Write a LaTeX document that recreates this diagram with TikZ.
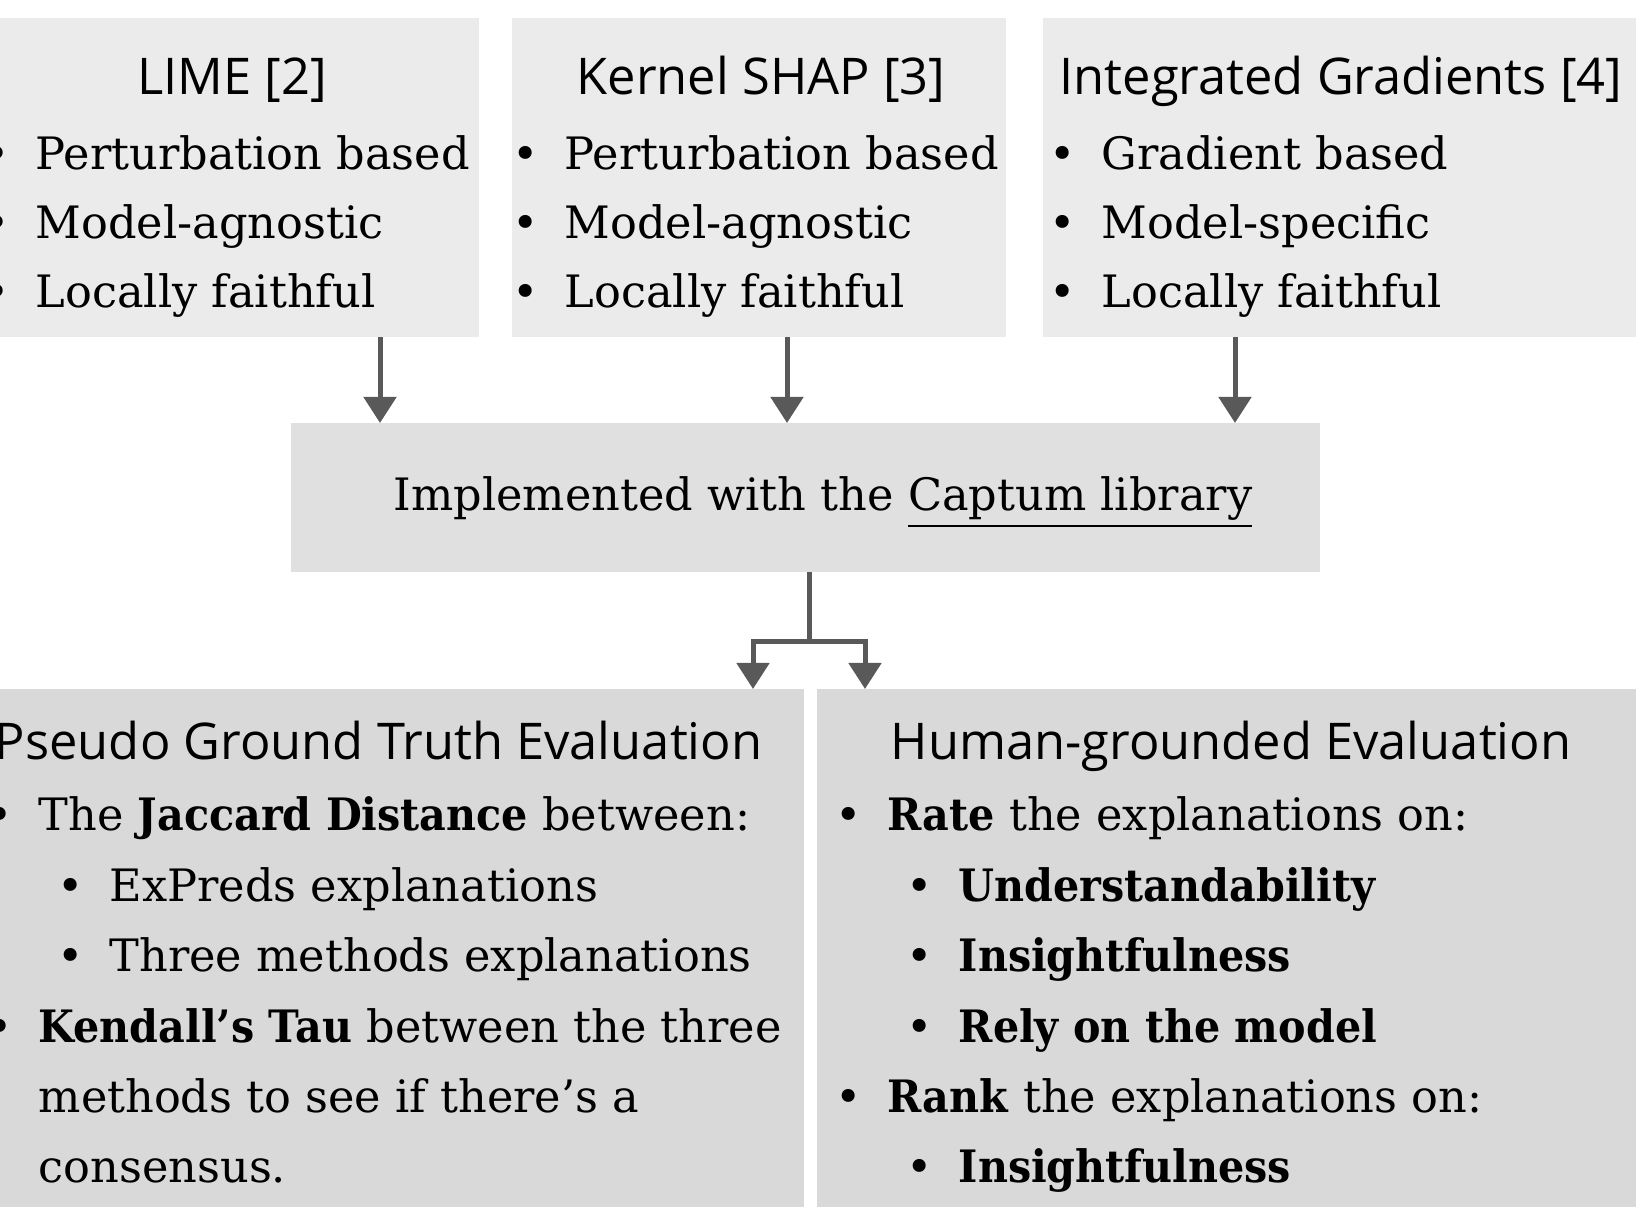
\documentclass[tikz,border=0pt]{standalone}
\usepackage{fontspec}
\setmainfont{DejaVu Serif}[BoldFeatures={FakeStretch=0.925}]
\newfontfamily\headfont{Open Sans}
\usepackage{xcolor}
\definecolor{box-light}{RGB}{235,235,235}
\definecolor{box-mid}{RGB}{224,224,224}
\definecolor{box-dark}{RGB}{217,217,217}
\definecolor{arrow-grey}{RGB}{89,89,89}
\usetikzlibrary{arrows.meta}
\newcommand{\bul}{\llap{\textbullet\hspace{2.6mm}}}

\begin{document}
\begin{tikzpicture}[
	>={Triangle[length=2.6mm,width=3.2mm]},
	box/.style={rectangle,inner sep=0pt,outer sep=0pt,anchor=north west},
	head/.style={font=\headfont\fontsize{14.4}{17}\selectfont,inner sep=0pt,anchor=base},
	item/.style={font=\fontsize{12.7}{15}\selectfont,inner sep=0pt,anchor=base west},
	link/.style={->,line width=0.5mm,arrow-grey}
	]
	\useasboundingbox (0,0) rectangle (16.36,12.07);
	\clip (0,0) rectangle (16.36,12.07);
	
	% the three methods
	\node[box,fill=box-light,minimum width=4.99cm,minimum height=3.19cm] (lime) at (-0.20,11.89) {};
	\node[box,fill=box-light,minimum width=4.94cm,minimum height=3.19cm] (kshap) at (5.12,11.89) {};
	\node[box,fill=box-light,minimum width=6.00cm,minimum height=3.19cm] (ig) at (10.43,11.89) {};
	
	\node[head] (lime-t) at (2.32,11.12) {LIME [2]};
	\node[head] (kshap-t) at (7.61,11.12) {Kernel SHAP [3]};
	\node[head] (ig-t) at (13.41,11.12) {Integrated Gradients [4]};
	
	\foreach \txt [count=\i] in {Perturbation based,Model-agnostic,Locally faithful}
		\node[item] (lime-\i) at (0.35,{10.37-0.69*(\i-1)}) {\bul\txt};
	\foreach \txt [count=\i] in {Perturbation based,Model-agnostic,Locally faithful}
		\node[item] (kshap-\i) at (5.64,{10.37-0.69*(\i-1)}) {\bul\txt};
	\foreach \txt [count=\i] in {Gradient based,Model-specific,Locally faithful}
		\node[item] (ig-\i) at (11.01,{10.37-0.69*(\i-1)}) {\bul\txt};
	
	% captum
	\node[box,fill=box-mid,minimum width=10.29cm,minimum height=1.49cm] (captum) at (2.91,7.84) {};
	\node[item,anchor=base] (captum-t) at (8.23,6.96) {Implemented with the \underline{Captum library}};
	
	% the two evaluations
	\node[box,fill=box-dark,minimum width=8.36cm,minimum height=5.6cm] (pgt) at (-0.32,5.18) {};
	\node[box,fill=box-dark,minimum width=8.40cm,minimum height=5.6cm] (human) at (8.17,5.18) {};
	
	\node[head,anchor=base east] (pgt-t) at (7.63,4.47) {Pseudo Ground Truth Evaluation};
	\node[head] (human-t) at (12.31,4.47) {Human-grounded Evaluation};
	
	\foreach \x/\txt [count=\i] in {0.38/{\bul The \textbf{Jaccard Distance} between:},
			1.09/{\bul ExPreds explanations},
			1.09/{\bul Three methods explanations},
			0.38/{\bul\textbf{Kendall’s Tau} between the three},
			0.38/{methods to see if there’s a},
			0.38/{consensus.}}
		\node[item] (pgt-\i) at (\x,{3.76-0.704*(\i-1)}) {\txt};
	\foreach \x/\txt [count=\i] in {8.87/{\bul\textbf{Rate} the explanations on:},
			9.58/{\bul\textbf{Understandability}},
			9.58/{\bul\textbf{Insightfulness}},
			9.58/{\bul\textbf{Rely on the model}},
			8.87/{\bul\textbf{Rank} the explanations on:},
			9.58/{\bul\textbf{Insightfulness}}}
		\node[item] (human-\i) at (\x,{3.76-0.704*(\i-1)}) {\txt};
	
	% arrows
	\coordinate (a1) at (3.80,0);
	\coordinate (a2) at (7.87,0);
	\coordinate (a3) at (12.35,0);
	\draw[link] (a1 |- lime.south) -- (a1 |- captum.north);
	\draw[link] (a2 |- kshap.south) -- (a2 |- captum.north);
	\draw[link] (a3 |- ig.south) -- (a3 |- captum.north);
	
	\coordinate (split) at (8.09,5.65);
	\coordinate (b1) at (7.53,0);
	\coordinate (b2) at (8.65,0);
	\draw[link,-] (captum.south -| split) -- (split);
	\draw[link] (split) -| (b1 |- pgt.north);
	\draw[link] (split) -| (b2 |- human.north);
\end{tikzpicture}
\end{document}
